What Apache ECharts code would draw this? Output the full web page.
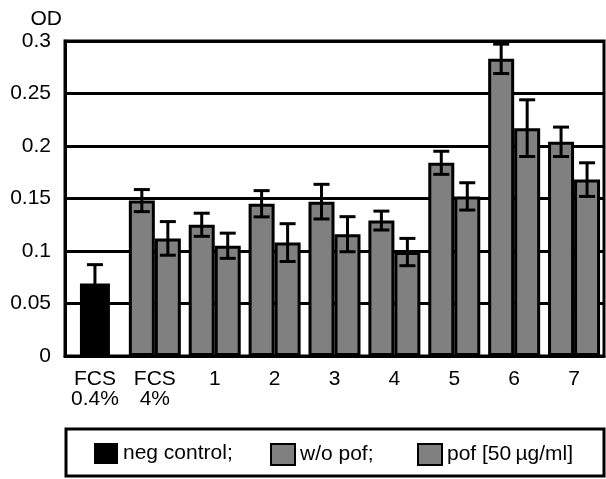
<!DOCTYPE html>
<html><head><meta charset="utf-8">
<script src="https://cdn.jsdelivr.net/npm/echarts@6/dist/echarts.min.js"></script>
<style>html,body{margin:0;padding:0;background:#fff}#c{width:606px;height:479px}</style>
</head><body><div id="c"></div>
<script>
const categories = ['FCS\n0.4%', 'FCS\n4%', '1', '2', '3', '4', '5', '6', '7'];
const negControl    = [0.069, null, null, null, null, null, null, null, null];
const negControlErr = [0.018, null, null, null, null, null, null, null, null];
const withoutPof    = [null, 0.148, 0.125, 0.145, 0.147, 0.129, 0.184, 0.283, 0.204];
const withoutPofErr = [null, 0.0105, 0.011, 0.0125, 0.0165, 0.009, 0.011, 0.014, 0.014];
const pof           = [null, 0.112, 0.105, 0.108, 0.116, 0.099, 0.152, 0.217, 0.168];
const pofErr        = [null, 0.016, 0.012, 0.018, 0.0167, 0.013, 0.013, 0.027, 0.016];
const seriesNames = ['neg control;', 'w/o pof;', 'pof [50\u2009\u00b5g/ml]'];

const FONT = 'Liberation Sans, Arial, Helvetica, sans-serif';
const FS = 21;
const BAR_W = 26;
const NEG_W = 30;

function errData(vals, errs) {
  const out = [];
  vals.forEach((v, i) => { if (v != null && errs[i] != null) out.push([i, v, errs[i]]); });
  return out;
}
function errRenderer(offset) {
  return function (params, api) {
    const i = api.value(0), v = api.value(1), e = api.value(2);
    const top = api.coord([i, v + e]);
    const bot = api.coord([i, v - e]);
    const x = top[0] + offset;
    const cap = 8;
    const st = { stroke: '#000', lineWidth: 3 };
    return {
      type: 'group',
      children: [
        { type: 'line', shape: { x1: x, y1: top[1], x2: x, y2: bot[1] }, style: st },
        { type: 'line', shape: { x1: x - cap, y1: top[1], x2: x + cap, y2: top[1] }, style: st },
        { type: 'line', shape: { x1: x - cap, y1: bot[1], x2: x + cap, y2: bot[1] }, style: st }
      ]
    };
  };
}

const chart = echarts.init(document.getElementById('c'));
const legendBase = {
  orient: 'horizontal', top: 443, padding: 0, icon: 'rect',
  itemWidth: 24, itemHeight: 21,
  textStyle: { fontSize: FS, color: '#000', fontFamily: FONT },
  selectedMode: false
};
chart.setOption({
  animation: false,
  backgroundColor: '#fff',
  grid: { left: 65, right: 2, top: 41, bottom: 123, show: true, borderColor: '#000', borderWidth: 3, backgroundColor: 'transparent' },
  legend: [
    Object.assign({}, legendBase, { left: 94, data: [seriesNames[0]] }),
    Object.assign({}, legendBase, { left: 270, data: [seriesNames[1]] }),
    Object.assign({}, legendBase, { left: 417, data: [seriesNames[2]] })
  ],
  graphic: [{
    type: 'rect', shape: { x: 66, y: 429, width: 538, height: 47 },
    style: { fill: 'none', stroke: '#000', lineWidth: 3 }, z: 100
  }],
  xAxis: [
    {
      type: 'category', data: categories,
      axisLine: { lineStyle: { color: '#000', width: 3 } },
      axisTick: { show: false },
      axisLabel: { color: '#000', fontSize: FS, fontFamily: FONT, lineHeight: 20, margin: 13, interval: 0 }
    },
    { type: 'category', data: categories, show: false }
  ],
  yAxis: {
    type: 'value', min: 0, max: 0.3, interval: 0.05,
    name: 'OD', nameLocation: 'end', nameGap: 11,
    nameTextStyle: { color: '#000', fontSize: FS, fontFamily: FONT, align: 'right', padding: [0, 3, 0, 0] },
    axisLine: { show: true, lineStyle: { color: '#000', width: 3 } },
    axisTick: { show: false },
    axisLabel: { color: '#000', fontSize: FS, fontFamily: FONT, margin: 14 },
    splitLine: { show: true, lineStyle: { color: '#000', width: 3 } }
  },
  series: [
    {
      name: seriesNames[0], type: 'bar', xAxisIndex: 1, data: negControl, barWidth: NEG_W,
      itemStyle: { color: '#000', borderColor: '#000', borderWidth: 0 }
    },
    {
      name: seriesNames[1], type: 'bar', data: withoutPof, barWidth: BAR_W, barGap: '0%',
      itemStyle: { color: '#808080', borderColor: '#000', borderWidth: 3 }
    },
    {
      name: seriesNames[2], type: 'bar', data: pof, barWidth: BAR_W, barGap: '0%',
      itemStyle: { color: '#808080', borderColor: '#000', borderWidth: 3 }
    },
    { type: 'custom', xAxisIndex: 1, data: errData(negControl, negControlErr), renderItem: errRenderer(0), z: 10, silent: true },
    { type: 'custom', data: errData(withoutPof, withoutPofErr), renderItem: errRenderer(-BAR_W / 2), z: 10, silent: true },
    { type: 'custom', data: errData(pof, pofErr), renderItem: errRenderer(BAR_W / 2), z: 10, silent: true }
  ]
});
</script></body></html>
